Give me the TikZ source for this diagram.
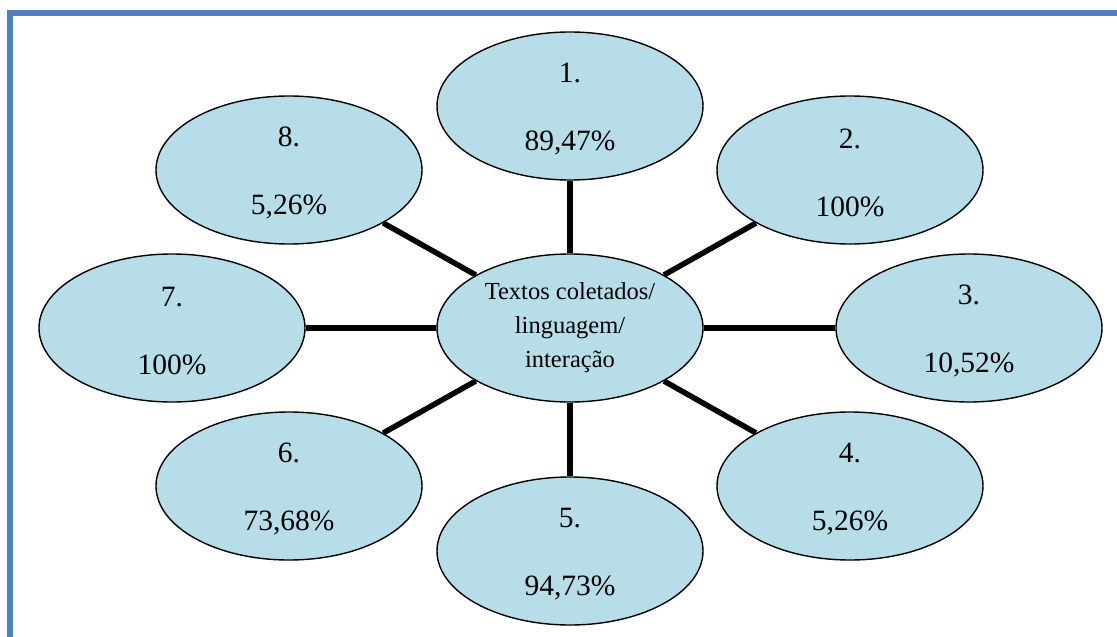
\documentclass[tikz,border=0pt]{standalone}
\usepackage{fontspec}
\setmainfont{Liberation Serif}
\usepackage{xcolor}
\usetikzlibrary{shapes.geometric}
\definecolor{framblue}{HTML}{4F81BD}
\definecolor{bubfill}{HTML}{B7DEE8}
\newcommand{\bubtxt}[2]{\rule{0pt}{26pt}#1\\[34pt]#2}

\begin{document}
\begin{tikzpicture}[x=1pt, y=-1pt,
    bub/.style={ellipse, draw, fill=bubfill, line width=1.4pt, minimum width=266pt, minimum height=148pt, inner sep=0pt, align=center, font=\fontsize{29.5}{34}\selectfont},
    hub/.style={bub, font=\fontsize{24.5}{34}\selectfont},
    spoke/.style={line width=5.5pt}]
    \useasboundingbox (0, 0) rectangle (1117, 637);
    \draw [framblue, line width=6pt] (9.7, 637) |- (1117, 13);
    \node [hub] (c) at (570, 328) {Textos coletados/\\linguagem/\\interação};
    \node [bub] (a) at (570, 106) {\bubtxt{1.}{89,47\%}};
    \node [bub] (b) at (850, 170) {\bubtxt{2.}{100\%}};
    \node [bub] (d) at (969, 328) {\bubtxt{3.}{10,52\%}};
    \node [bub] (e) at (850, 486) {\bubtxt{4.}{5,26\%}};
    \node [bub] (f) at (570, 551) {\bubtxt{5.}{94,73\%}};
    \node [bub] (g) at (289, 486) {\bubtxt{6.}{73,68\%}};
    \node [bub] (h) at (172, 328) {\bubtxt{7.}{100\%}};
    \node [bub] (i) at (289, 170) {\bubtxt{8.}{5,26\%}};
    \draw [spoke] (c) to (a);
    \draw [spoke] (c) to (b);
    \draw [spoke] (c) to (d);
    \draw [spoke] (c) to (e);
    \draw [spoke] (c) to (f);
    \draw [spoke] (c) to (g);
    \draw [spoke] (c) to (h);
    \draw [spoke] (c) to (i);
\end{tikzpicture}
\end{document}
